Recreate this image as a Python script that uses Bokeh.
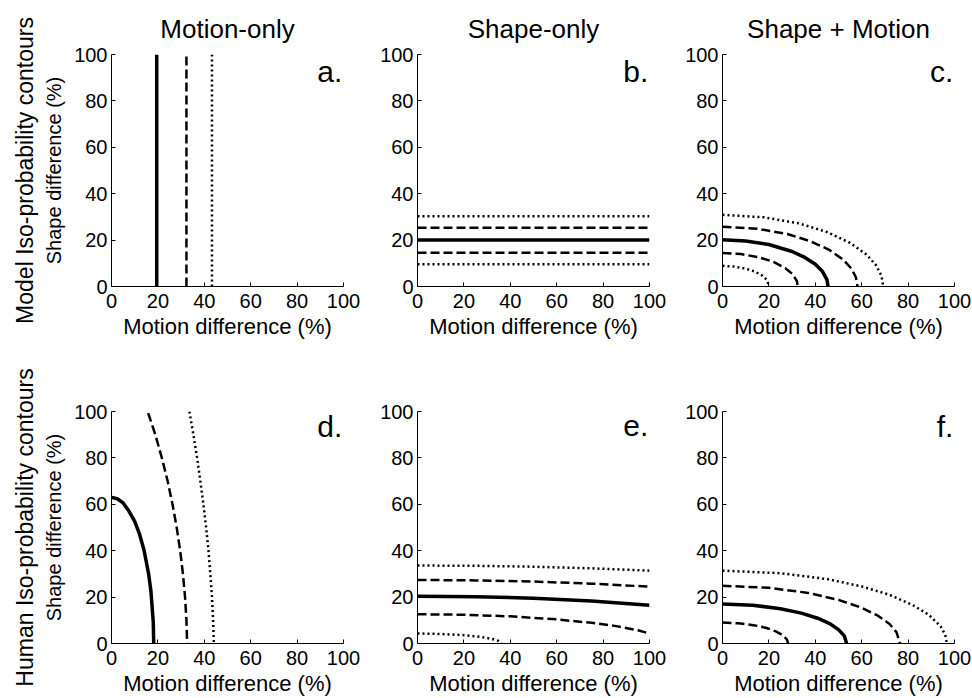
from bokeh.plotting import figure
from bokeh.layouts import column, row
from bokeh.models import FixedTicker, Range1d, Title, Label
from bokeh.embed import file_html
from bokeh.resources import INLINE

FONT = "Liberation Sans"

# ---------------- text ----------------
col_titles = ["Motion-only", "Shape-only", "Shape + Motion"]
row_titles = ["Model Iso-probability contours", "Human Iso-probability contours"]
panel_letters = ["a.", "b.", "c.", "d.", "e.", "f."]
x_label = "Motion difference (%)"
y_label = "Shape difference (%)"
ticks = [0, 20, 40, 60, 80, 100]

# ---------------- data ----------------
# a. Motion-only model: vertical iso-probability lines
a_solid_x = [19.5, 19.5];  a_solid_y = [0, 100]
a_dash_x = [32.3, 32.3];   a_dash_y = [0, 100]
a_dot_x = [43.3, 43.3];    a_dot_y = [0, 100]

# b. Shape-only model: horizontal lines
b_x = [0, 100]
b_dot_hi_y = [30.3, 30.3]
b_dash_hi_y = [25.3, 25.3]
b_solid_y = [20.0, 20.0]
b_dash_lo_y = [14.6, 14.6]
b_dot_lo_y = [9.6, 9.6]

# c. Shape + Motion model
c_dot_in_x = [0, 5, 10, 14, 17, 19, 20.2]
c_dot_in_y = [8.9, 8.6, 7.7, 6.4, 4.8, 3.0, 0]
c_dash_in_x = [0, 8, 16, 22, 27, 30, 32, 32.5]
c_dash_in_y = [14.4, 14.0, 12.5, 10.6, 8.0, 5.5, 2.5, 0]
c_solid_x = [0, 10, 20, 30, 35, 40, 43, 45, 45.5]
c_solid_y = [20.1, 19.6, 18.1, 15.1, 12.8, 9.6, 6.6, 3.0, 0]
c_dash_out_x = [0, 15, 28, 38, 46, 52, 55.5, 57.5, 58.2]
c_dash_out_y = [25.8, 24.9, 22.6, 19.5, 15.8, 11.6, 7.8, 4.0, 0]
c_dot_out_x = [0, 18, 33, 45, 55, 62, 66, 68.5, 69.3]
c_dot_out_y = [30.9, 29.8, 27.2, 23.5, 18.8, 13.8, 9.4, 4.7, 0]

# d. Motion-only human
d_solid_x = [0, 2.5, 5, 7.5, 10, 12, 14, 16, 17, 18, 18.2]
d_solid_y = [63.0, 62.4, 60.6, 57.1, 52.6, 47.4, 40.3, 30.0, 22.5, 9.3, 0]
d_dash_x = [15.8, 18.9, 21.7, 24.2, 26.3, 28.1, 29.6, 30.8, 31.7, 32.3, 32.6]
d_dash_y = [99.3, 90, 80, 70, 60, 50, 40, 30, 20, 10, 0]
d_dot_x = [33.6, 35.3, 36.9, 38.3, 39.6, 40.8, 41.8, 42.6, 43.3, 43.8, 44.1]
d_dot_y = [100, 90, 80, 70, 60, 50, 40, 30, 20, 10, 0]

# e. Shape-only human
e_x = [0, 25, 50, 75, 100]
e_dot_hi_y = [33.6, 33.5, 33.1, 32.4, 31.4]
e_dash_hi_y = [27.4, 27.2, 26.7, 25.8, 24.5]
e_solid_y = [20.4, 20.2, 19.5, 18.3, 16.5]
e_dash_lo_x = [0, 20, 40, 60, 75, 85, 95, 100]
e_dash_lo_y = [12.6, 12.4, 11.7, 10.4, 8.9, 7.6, 5.7, 4.3]
e_dot_lo_x = [0, 10, 20, 27, 32, 35, 36.2]
e_dot_lo_y = [4.3, 4.1, 3.6, 2.9, 2.0, 1.1, 0]

# f. Shape + Motion human
f_dash_in_x = [0, 7, 14, 19, 23, 26, 27.8, 28.3]
f_dash_in_y = [9.0, 8.7, 7.8, 6.7, 5.2, 3.6, 1.7, 0]
f_solid_x = [0, 13, 25, 34, 41, 46, 50, 52.5, 53.5]
f_solid_y = [17.0, 16.5, 15.0, 13.1, 10.9, 8.7, 6.0, 3.3, 0]
f_dash_out_x = [0, 20, 37, 50, 60, 67, 72, 75, 76.5]
f_dash_out_y = [24.9, 24.0, 21.8, 18.8, 15.4, 12.0, 8.4, 4.9, 0]
f_dot_out_x = [0, 25, 45, 60, 72, 82, 89, 94, 96, 96.7]
f_dot_out_y = [31.4, 30.3, 27.8, 24.6, 21.0, 16.6, 12.3, 7.4, 3.8, 0]

panels = [
    [("solid", a_solid_x, a_solid_y), ("dash", a_dash_x, a_dash_y), ("dot", a_dot_x, a_dot_y)],
    [("dot", b_x, b_dot_hi_y), ("dash", b_x, b_dash_hi_y), ("solid", b_x, b_solid_y),
     ("dash", b_x, b_dash_lo_y), ("dot", b_x, b_dot_lo_y)],
    [("dot", c_dot_in_x, c_dot_in_y), ("dash", c_dash_in_x, c_dash_in_y), ("solid", c_solid_x, c_solid_y),
     ("dash", c_dash_out_x, c_dash_out_y), ("dot", c_dot_out_x, c_dot_out_y)],
    [("solid", d_solid_x, d_solid_y), ("dash", d_dash_x, d_dash_y), ("dot", d_dot_x, d_dot_y)],
    [("dot", e_x, e_dot_hi_y), ("dash", e_x, e_dash_hi_y), ("solid", e_x, e_solid_y),
     ("dash", e_dash_lo_x, e_dash_lo_y), ("dot", e_dot_lo_x, e_dot_lo_y)],
    [("dash", f_dash_in_x, f_dash_in_y), ("solid", f_solid_x, f_solid_y),
     ("dash", f_dash_out_x, f_dash_out_y), ("dot", f_dot_out_x, f_dot_out_y)],
]

STYLES = {
    "solid": dict(line_width=3.5, line_dash="solid"),
    "dash": dict(line_width=2.5, line_dash="9 4"),
    "dot": dict(line_width=2.5, line_dash="2 3"),
}

BORDER_LEFT = [111, 54, 53]
BORDER_RIGHT = [20, 20, 17]
BORDER_TOP = [54, 65]
BORDER_BOTTOM = [60, 48]
LETTER_Y = [92.8, 93.6]


def make_panel(i):
    r, c = divmod(i, 3)
    p = figure(frame_width=232, frame_height=232,
               x_range=Range1d(0, 100), y_range=Range1d(0, 100),
               output_backend="svg", toolbar_location=None,
               min_border_left=BORDER_LEFT[c], min_border_right=BORDER_RIGHT[c],
               min_border_top=BORDER_TOP[r], min_border_bottom=BORDER_BOTTOM[r],
               outline_line_color=None, background_fill_color="white",
               border_fill_color="white")
    p.grid.visible = False
    if r == 0:
        p.title.text = col_titles[c]
        p.title.align = "center"
        p.title.text_font = FONT
        p.title.text_font_size = "26px"
        p.title.text_font_style = "normal"
        p.title.text_color = "black"
        p.title.standoff = 22
    if c == 0:
        p.add_layout(Title(text=row_titles[r], align="center", text_font=FONT,
                           text_font_size="23px", text_font_style="normal",
                           text_color="black", standoff=5), "left")
        p.yaxis.axis_label = y_label
    p.xaxis.axis_label = x_label
    for ax in (p.xaxis[0], p.yaxis[0]):
        ax.ticker = FixedTicker(ticks=ticks)
        ax.axis_line_color = "black"
        ax.axis_line_width = 1
        ax.major_tick_line_color = "black"
        ax.major_tick_in = 4
        ax.major_tick_out = 0
        ax.minor_tick_line_color = None
        ax.major_label_text_font = FONT
        ax.major_label_text_font_size = "20px"
        ax.major_label_text_color = "black"
        ax.axis_label_text_font = FONT
        ax.axis_label_text_font_style = "normal"
        ax.axis_label_text_color = "black"
    p.xaxis.major_label_standoff = 7
    p.yaxis.major_label_standoff = 4
    p.xaxis.axis_label_text_font_size = "22px"
    p.xaxis.axis_label_standoff = 3
    p.yaxis.axis_label_text_font_size = "20px"
    p.yaxis.axis_label_standoff = 6
    for kind, xs, ys in panels[i]:
        p.line(xs, ys, line_color="black", line_cap="butt", **STYLES[kind])
    p.add_layout(Label(x=99.5, y=LETTER_Y[r], text=panel_letters[i], text_align="right",
                       text_baseline="alphabetic", text_font=FONT,
                       text_font_size="30px", text_color="black"))
    return p


figs = [make_panel(i) for i in range(6)]
layout = column(row(*figs[:3]), row(*figs[3:]))

with open("out.html", "w") as fh:
    fh.write(file_html(layout, INLINE, title="Iso-probability contours"))
